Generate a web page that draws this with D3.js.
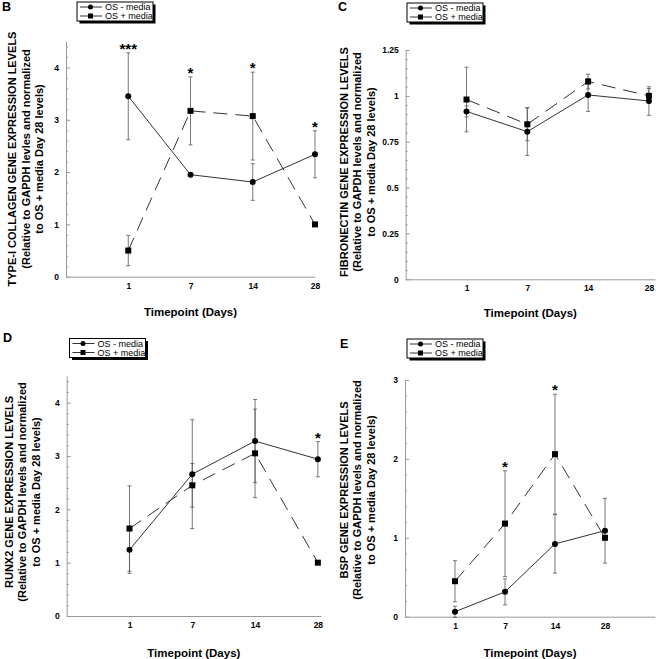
<!DOCTYPE html>
<html>
<head>
<meta charset="utf-8">
<script src="https://cdn.jsdelivr.net/npm/d3@7"></script>
<style>
  html, body { margin: 0; padding: 0; background: #fff; }
  svg { display: block; font-family: "Liberation Sans", Arial, sans-serif; }
</style>
</head>
<body>
<svg id="chart" width="656" height="659"></svg>
<script>
// ---------- DATA ----------
const days = ["1", "7", "14", "28"];
const seriesNames = ["OS - media", "OS + media"];

// Panel B: Type-I collagen
const collagenMinus    = [3.45, 1.95, 1.81, 2.34];
const collagenMinusErr = [0.83, 0.00, 0.35, 0.45];
const collagenPlus     = [0.50, 3.17, 3.07, 1.00];
const collagenPlusErr  = [0.29, 0.65, 0.84, 0.00];
const collagenStars    = ["***", "*", "*", "*"];

// Panel C: Fibronectin
const fibroMinus    = [0.915, 0.805, 1.005, 0.972];
const fibroMinusErr = [0.03, 0.13, 0.09, 0.078];
const fibroPlus     = [0.980, 0.845, 1.078, 1.000];
const fibroPlusErr  = [0.176, 0.09, 0.04, 0.04];
const fibroStars    = ["", "", "", ""];

// Panel D: RUNX2
const runx2Minus    = [1.24, 2.66, 3.28, 2.94];
const runx2MinusErr = [0.44, 1.02, 0.78, 0.33];
const runx2Plus     = [1.64, 2.45, 3.05, 1.00];
const runx2PlusErr  = [0.80, 0.41, 0.83, 0.00];
const runx2Stars    = ["", "", "", "*"];

// Panel E: BSP
const bspMinus    = [0.063, 0.315, 0.923, 1.09];
const bspMinusErr = [0.07, 0.165, 0.37, 0.41];
const bspPlus     = [0.45, 1.18, 2.06, 1.00];
const bspPlusErr  = [0.26, 0.67, 0.76, 0.00];
const bspStars    = ["", "*", "*", ""];

// ---------- PANELS (layout) ----------
const panels = [
  { letter: "B", lx: 2, ly: 11,
    title: ["TYPE-I COLLAGEN GENE EXPRESSION LEVELS", "(Relative to GAPDH levles and normalized", "to OS + media Day 28 levels)"],
    minus: collagenMinus, minusErr: collagenMinusErr, plus: collagenPlus, plusErr: collagenPlusErr, stars: collagenStars,
    x0: 66, x1: 315, xMax: 4, y0: 276.7, yTopVal: 4.5, yTopPx: 41.3,
    majors: [0, 1, 2, 3, 4], minorStep: 0.2, titleX: 12, titleY: 159, xTitleY: 316, legX: 77, legY: 2 },
  { letter: "C", lx: 338, ly: 11,
    title: ["FIBRONECTIN GENE EXPRESSION LEVELS", "(Relative to GAPDH levels and normalized", "to OS + media Day 28 levels)"],
    minus: fibroMinus, minusErr: fibroMinusErr, plus: fibroPlus, plusErr: fibroPlusErr, stars: fibroStars,
    x0: 405.7, x1: 655, xMax: 4.1, y0: 279.3, yTopVal: 1.25, yTopPx: 50,
    majors: [0, 0.25, 0.5, 0.75, 1, 1.25], minorStep: 0.05, titleX: 343.5, titleY: 162, xTitleY: 317, legX: 407, legY: 3 },
  { letter: "D", lx: 3, ly: 342,
    title: ["RUNX2 GENE EXPRESSION LEVELS", "(Relative to GAPDH levels and normalized", "to OS + media Day 28 levels)"],
    minus: runx2Minus, minusErr: runx2MinusErr, plus: runx2Plus, plusErr: runx2PlusErr, stars: runx2Stars,
    x0: 66.7, x1: 321, xMax: 4.05, y0: 616, yTopVal: 4.5, yTopPx: 376,
    majors: [0, 1, 2, 3, 4], minorStep: 0.2, titleX: 8.5, titleY: 492, xTitleY: 657, legX: 69.5, legY: 338.5 },
  { letter: "E", lx: 340, ly: 348,
    title: ["BSP GENE EXPRESSION LEVELS", "(Relative to GAPDH levels and normalized", "to OS + media Day 28 levels)"],
    minus: bspMinus, minusErr: bspMinusErr, plus: bspPlus, plusErr: bspPlusErr, stars: bspStars,
    x0: 405, x1: 655, xMax: 5, y0: 616.7, yTopVal: 3, yTopPx: 380,
    majors: [0, 1, 2, 3], minorStep: 0.2, titleX: 343.5, titleY: 490, xTitleY: 657, legX: 407, legY: 339 }
];

const svg = d3.select("#chart");
const FONT = '"Liberation Sans", Arial, sans-serif';
const AXIS_COLOR = "#9a9a9a";
const DASH = "14,8";

function fmt(v) { return String(+v.toFixed(2)); }

panels.forEach(p => {
  const g = svg.append("g");
  const x = d3.scaleLinear().domain([0, p.xMax]).range([p.x0, p.x1]);
  const y = d3.scaleLinear().domain([0, p.yTopVal]).range([p.y0, p.yTopPx]);

  // panel letter
  g.append("text").attr("x", p.lx).attr("y", p.ly)
    .attr("font-size", 12.5).attr("font-weight", "bold").text(p.letter);

  // minor ticks
  const minors = d3.range(0, p.yTopVal + 1e-9, p.minorStep).map(v => +v.toFixed(4))
    .filter(v => !p.majors.some(m => Math.abs(m - v) < 1e-6));
  const minorAxis = g.append("g").attr("transform", `translate(${p.x0},0)`)
    .call(d3.axisLeft(y).tickValues(minors).tickSize(-2).tickSizeOuter(0).tickFormat(""));
  minorAxis.select(".domain").remove();
  minorAxis.selectAll("line").attr("stroke", AXIS_COLOR);

  // y axis
  const yAxis = g.append("g").attr("transform", `translate(${p.x0},0)`)
    .call(d3.axisLeft(y).tickValues(p.majors).tickSize(-4).tickSizeOuter(0).tickPadding(7).tickFormat(fmt));
  yAxis.select(".domain").attr("stroke", AXIS_COLOR);
  yAxis.selectAll("line").attr("stroke", AXIS_COLOR);
  yAxis.selectAll("text").attr("font-family", FONT).attr("font-size", 8.5).attr("font-weight", "bold").attr("fill", "#000");

  // x axis
  const xAxis = g.append("g").attr("transform", `translate(0,${p.y0})`)
    .call(d3.axisBottom(x).tickValues([1, 2, 3, 4]).tickSize(0).tickSizeOuter(0).tickPadding(6)
      .tickFormat(i => days[i - 1]));
  xAxis.select(".domain").attr("stroke", AXIS_COLOR);
  xAxis.selectAll("text").attr("font-family", FONT).attr("font-size", 8.5).attr("font-weight", "bold").attr("fill", "#000");

  // x title
  g.append("text").attr("x", (p.x0 + p.x1) / 2).attr("y", p.xTitleY)
    .attr("text-anchor", "middle").attr("font-size", 11.5).attr("font-weight", "bold").text("Timepoint (Days)");

  // y title (3 rotated lines)
  p.title.forEach((t, k) => {
    g.append("text")
      .attr("transform", `translate(${p.titleX + k * 13.7},${p.titleY}) rotate(-90)`)
      .attr("text-anchor", "middle").attr("dominant-baseline", "central")
      .attr("font-size", 11).attr("font-weight", "bold").text(t);
  });

  const idx = days.map((d, i) => i + 1);

  // error bars
  function errorBars(vals, errs) {
    idx.forEach((xi, i) => {
      if (!errs[i]) return;
      const xc = x(xi), yt = y(vals[i] + errs[i]), yb = y(vals[i] - errs[i]);
      g.append("line").attr("x1", xc).attr("x2", xc).attr("y1", yt).attr("y2", yb)
        .attr("stroke", "#555").attr("stroke-width", 0.8);
      [yt, yb].forEach(yy => g.append("line").attr("x1", xc - 2).attr("x2", xc + 2).attr("y1", yy).attr("y2", yy)
        .attr("stroke", "#555").attr("stroke-width", 0.8));
    });
  }
  errorBars(p.minus, p.minusErr);
  errorBars(p.plus, p.plusErr);

  const line = d3.line().x(d => x(d[0])).y(d => y(d[1]));
  g.append("path").datum(idx.map((xi, i) => [xi, p.plus[i]])).attr("d", line)
    .attr("fill", "none").attr("stroke", "#333").attr("stroke-width", 1).attr("stroke-dasharray", DASH);
  g.append("path").datum(idx.map((xi, i) => [xi, p.minus[i]])).attr("d", line)
    .attr("fill", "none").attr("stroke", "#333").attr("stroke-width", 1);

  idx.forEach((xi, i) => {
    g.append("rect").attr("x", x(xi) - 3).attr("y", y(p.plus[i]) - 3).attr("width", 6).attr("height", 6).attr("fill", "#000");
    g.append("circle").attr("cx", x(xi)).attr("cy", y(p.minus[i])).attr("r", 3).attr("fill", "#000");
  });

  // significance stars
  idx.forEach((xi, i) => {
    if (!p.stars[i]) return;
    const top = Math.max(p.minus[i] + p.minusErr[i], p.plus[i] + p.plusErr[i]);
    g.append("text").attr("x", x(xi)).attr("y", y(top) + 1)
      .attr("text-anchor", "middle").attr("font-size", 15).attr("font-weight", "bold").text(p.stars[i]);
  });

  // legend
  const lg = g.append("g").attr("transform", `translate(${p.legX},${p.legY})`);
  lg.append("rect").attr("x", 2.5).attr("y", 2.5).attr("width", 76).attr("height", 19).attr("fill", "#000");
  lg.append("rect").attr("x", 0).attr("y", 0).attr("width", 76).attr("height", 19).attr("fill", "#fff")
    .attr("stroke", "#000").attr("stroke-width", 1);
  [0, 1].forEach(k => {
    const yy = 5 + k * 9;
    lg.append("line").attr("x1", 3).attr("x2", 25).attr("y1", yy).attr("y2", yy)
      .attr("stroke", "#333").attr("stroke-width", 1).attr("stroke-dasharray", k ? "9,4" : null);
    if (k) lg.append("rect").attr("x", 11).attr("y", yy - 2.5).attr("width", 5).attr("height", 5).attr("fill", "#000");
    else lg.append("circle").attr("cx", 13.5).attr("cy", yy).attr("r", 2.5).attr("fill", "#000");
    lg.append("text").attr("x", 28).attr("y", yy).attr("dominant-baseline", "central")
      .attr("font-size", 9).text(seriesNames[k]);
  });
});
</script>
</body>
</html>
